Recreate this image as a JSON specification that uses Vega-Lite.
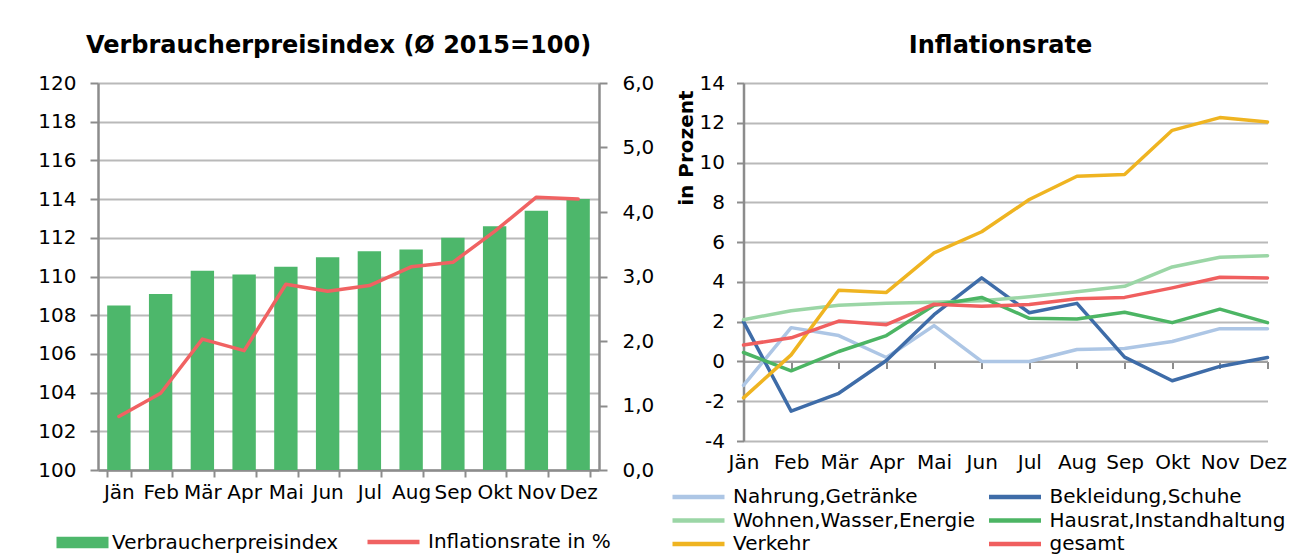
{
  "$schema": "https://vega.github.io/schema/vega-lite/v6.json",
  "padding": {"left": 37, "top": 34, "right": 0, "bottom": 0},
  "background": "white",
  "config": {
    "font": "DejaVu Sans",
    "view": {"stroke": null},
    "axis": {
      "labelFont": "DejaVu Sans", "labelFontSize": 20, "labelColor": "#000000",
      "titleFont": "DejaVu Sans", "titleColor": "#000000",
      "domainColor": "#8c8c8c", "tickColor": "#8c8c8c", "gridColor": "#b9b9b9",
      "gridWidth": 2, "domainWidth": 2.5, "tickWidth": 2,
      "labelFlush": false, "labelOverlap": false, "labelBound": false
    },
    "legend": {"labelFont": "DejaVu Sans", "labelFontSize": 20, "labelColor": "#000000", "labelLimit": 400},
    "title": {"font": "DejaVu Sans", "fontSize": 24, "fontWeight": "bold", "color": "#000000"}
  },
  "datasets": {
    "cpi": [
      {"Monat": "Jän", "Index": 108.5, "Rate": 0.83},
      {"Monat": "Feb", "Index": 109.1, "Rate": 1.19},
      {"Monat": "Mär", "Index": 110.3, "Rate": 2.03},
      {"Monat": "Apr", "Index": 110.1, "Rate": 1.85},
      {"Monat": "Mai", "Index": 110.5, "Rate": 2.88},
      {"Monat": "Jun", "Index": 111.0, "Rate": 2.77},
      {"Monat": "Jul", "Index": 111.3, "Rate": 2.86},
      {"Monat": "Aug", "Index": 111.4, "Rate": 3.15},
      {"Monat": "Sep", "Index": 112.0, "Rate": 3.22},
      {"Monat": "Okt", "Index": 112.6, "Rate": 3.7},
      {"Monat": "Nov", "Index": 113.4, "Rate": 4.23},
      {"Monat": "Dez", "Index": 114.0, "Rate": 4.2}
    ],
    "rates": [
      {"Kategorie": "Nahrung,Getränke", "Monat": "Jän", "Wert": -1.2},
      {"Kategorie": "Nahrung,Getränke", "Monat": "Feb", "Wert": 1.7},
      {"Kategorie": "Nahrung,Getränke", "Monat": "Mär", "Wert": 1.3},
      {"Kategorie": "Nahrung,Getränke", "Monat": "Apr", "Wert": 0.2},
      {"Kategorie": "Nahrung,Getränke", "Monat": "Mai", "Wert": 1.8},
      {"Kategorie": "Nahrung,Getränke", "Monat": "Jun", "Wert": 0.0},
      {"Kategorie": "Nahrung,Getränke", "Monat": "Jul", "Wert": 0.0},
      {"Kategorie": "Nahrung,Getränke", "Monat": "Aug", "Wert": 0.6},
      {"Kategorie": "Nahrung,Getränke", "Monat": "Sep", "Wert": 0.65},
      {"Kategorie": "Nahrung,Getränke", "Monat": "Okt", "Wert": 1.0},
      {"Kategorie": "Nahrung,Getränke", "Monat": "Nov", "Wert": 1.65},
      {"Kategorie": "Nahrung,Getränke", "Monat": "Dez", "Wert": 1.65},
      {"Kategorie": "Bekleidung,Schuhe", "Monat": "Jän", "Wert": 2.0},
      {"Kategorie": "Bekleidung,Schuhe", "Monat": "Feb", "Wert": -2.5},
      {"Kategorie": "Bekleidung,Schuhe", "Monat": "Mär", "Wert": -1.6},
      {"Kategorie": "Bekleidung,Schuhe", "Monat": "Apr", "Wert": 0.05},
      {"Kategorie": "Bekleidung,Schuhe", "Monat": "Mai", "Wert": 2.35},
      {"Kategorie": "Bekleidung,Schuhe", "Monat": "Jun", "Wert": 4.2},
      {"Kategorie": "Bekleidung,Schuhe", "Monat": "Jul", "Wert": 2.45},
      {"Kategorie": "Bekleidung,Schuhe", "Monat": "Aug", "Wert": 2.92},
      {"Kategorie": "Bekleidung,Schuhe", "Monat": "Sep", "Wert": 0.22},
      {"Kategorie": "Bekleidung,Schuhe", "Monat": "Okt", "Wert": -0.97},
      {"Kategorie": "Bekleidung,Schuhe", "Monat": "Nov", "Wert": -0.25},
      {"Kategorie": "Bekleidung,Schuhe", "Monat": "Dez", "Wert": 0.2},
      {"Kategorie": "Wohnen,Wasser,Energie", "Monat": "Jän", "Wert": 2.1},
      {"Kategorie": "Wohnen,Wasser,Energie", "Monat": "Feb", "Wert": 2.55},
      {"Kategorie": "Wohnen,Wasser,Energie", "Monat": "Mär", "Wert": 2.83},
      {"Kategorie": "Wohnen,Wasser,Energie", "Monat": "Apr", "Wert": 2.92},
      {"Kategorie": "Wohnen,Wasser,Energie", "Monat": "Mai", "Wert": 2.97},
      {"Kategorie": "Wohnen,Wasser,Energie", "Monat": "Jun", "Wert": 3.05},
      {"Kategorie": "Wohnen,Wasser,Energie", "Monat": "Jul", "Wert": 3.25},
      {"Kategorie": "Wohnen,Wasser,Energie", "Monat": "Aug", "Wert": 3.5},
      {"Kategorie": "Wohnen,Wasser,Energie", "Monat": "Sep", "Wert": 3.78},
      {"Kategorie": "Wohnen,Wasser,Energie", "Monat": "Okt", "Wert": 4.75},
      {"Kategorie": "Wohnen,Wasser,Energie", "Monat": "Nov", "Wert": 5.24},
      {"Kategorie": "Wohnen,Wasser,Energie", "Monat": "Dez", "Wert": 5.32},
      {"Kategorie": "Hausrat,Instandhaltung", "Monat": "Jän", "Wert": 0.45},
      {"Kategorie": "Hausrat,Instandhaltung", "Monat": "Feb", "Wert": -0.47},
      {"Kategorie": "Hausrat,Instandhaltung", "Monat": "Mär", "Wert": 0.5},
      {"Kategorie": "Hausrat,Instandhaltung", "Monat": "Apr", "Wert": 1.3},
      {"Kategorie": "Hausrat,Instandhaltung", "Monat": "Mai", "Wert": 2.83},
      {"Kategorie": "Hausrat,Instandhaltung", "Monat": "Jun", "Wert": 3.22},
      {"Kategorie": "Hausrat,Instandhaltung", "Monat": "Jul", "Wert": 2.17},
      {"Kategorie": "Hausrat,Instandhaltung", "Monat": "Aug", "Wert": 2.13},
      {"Kategorie": "Hausrat,Instandhaltung", "Monat": "Sep", "Wert": 2.47},
      {"Kategorie": "Hausrat,Instandhaltung", "Monat": "Okt", "Wert": 1.95},
      {"Kategorie": "Hausrat,Instandhaltung", "Monat": "Nov", "Wert": 2.63},
      {"Kategorie": "Hausrat,Instandhaltung", "Monat": "Dez", "Wert": 1.95},
      {"Kategorie": "Verkehr", "Monat": "Jän", "Wert": -1.83},
      {"Kategorie": "Verkehr", "Monat": "Feb", "Wert": 0.33},
      {"Kategorie": "Verkehr", "Monat": "Mär", "Wert": 3.58},
      {"Kategorie": "Verkehr", "Monat": "Apr", "Wert": 3.47},
      {"Kategorie": "Verkehr", "Monat": "Mai", "Wert": 5.46},
      {"Kategorie": "Verkehr", "Monat": "Jun", "Wert": 6.52},
      {"Kategorie": "Verkehr", "Monat": "Jul", "Wert": 8.14},
      {"Kategorie": "Verkehr", "Monat": "Aug", "Wert": 9.31},
      {"Kategorie": "Verkehr", "Monat": "Sep", "Wert": 9.4},
      {"Kategorie": "Verkehr", "Monat": "Okt", "Wert": 11.62},
      {"Kategorie": "Verkehr", "Monat": "Nov", "Wert": 12.26},
      {"Kategorie": "Verkehr", "Monat": "Dez", "Wert": 12.04},
      {"Kategorie": "gesamt", "Monat": "Jän", "Wert": 0.83},
      {"Kategorie": "gesamt", "Monat": "Feb", "Wert": 1.19},
      {"Kategorie": "gesamt", "Monat": "Mär", "Wert": 2.03},
      {"Kategorie": "gesamt", "Monat": "Apr", "Wert": 1.85},
      {"Kategorie": "gesamt", "Monat": "Mai", "Wert": 2.88},
      {"Kategorie": "gesamt", "Monat": "Jun", "Wert": 2.77},
      {"Kategorie": "gesamt", "Monat": "Jul", "Wert": 2.86},
      {"Kategorie": "gesamt", "Monat": "Aug", "Wert": 3.15},
      {"Kategorie": "gesamt", "Monat": "Sep", "Wert": 3.22},
      {"Kategorie": "gesamt", "Monat": "Okt", "Wert": 3.7},
      {"Kategorie": "gesamt", "Monat": "Nov", "Wert": 4.23},
      {"Kategorie": "gesamt", "Monat": "Dez", "Wert": 4.2}
    ]
  },
  "spacing": 14.5,
  "resolve": {
    "scale": {"color": "independent", "fill": "independent", "stroke": "independent", "x": "independent", "y": "independent"},
    "legend": {"color": "independent", "fill": "independent", "stroke": "independent"}
  },
  "hconcat": [
    {
      "width": 501,
      "height": 387,
      "title": {"text": "Verbraucherpreisindex (Ø 2015=100)", "offset": 15, "anchor": "middle", "dx": -10},
      "data": {"name": "cpi"},
      "encoding": {
        "x": {
          "field": "Monat", "type": "nominal", "sort": null,
          "scale": {"paddingInner": 0.44, "paddingOuter": 0.22},
          "axis": {"title": null, "tickBand": "extent", "tickSize": 7, "labelPadding": 5, "labelAngle": 0, "grid": false}
        }
      },
      "layer": [
        {
          "mark": {"type": "bar"},
          "encoding": {
            "y": {
              "field": "Index", "type": "quantitative",
              "scale": {"domain": [100, 120], "zero": false, "nice": false},
              "axis": {"title": null, "orient": "left", "values": [100, 102, 104, 106, 108, 110, 112, 114, 116, 118, 120], "grid": true, "tickSize": 8, "labelPadding": 14}
            },
            "y2": {"datum": 100},
            "fill": {
              "datum": "Verbraucherpreisindex", "type": "nominal",
              "scale": {"range": ["#4db76b"]},
              "legend": {"orient": "none", "legendX": -45, "legendY": 449.5, "title": null, "symbolType": "M-1,-0.9H7V0.9H-1Z", "symbolSize": 169, "symbolStrokeWidth": 0, "labelOffset": 39}
            }
          }
        },
        {
          "mark": {"type": "line", "strokeWidth": 3.5, "strokeJoin": "round", "strokeCap": "round"},
          "encoding": {
            "y": {
              "field": "Rate", "type": "quantitative",
              "scale": {"domain": [0, 6], "nice": false},
              "axis": {"title": null, "orient": "right", "values": [0, 1, 2, 3, 4, 5, 6], "grid": false, "tickSize": 8, "labelPadding": 15, "labelExpr": "replace(format(datum.value, '.1f'), '.', ',')"}
            },
            "stroke": {
              "datum": "Inflationsrate in %", "type": "nominal",
              "scale": {"range": ["#f06262"]},
              "legend": {"orient": "none", "legendX": 266, "legendY": 449, "title": null, "symbolType": "M-1,0H7", "symbolSize": 169, "symbolStrokeWidth": 4.5, "labelOffset": 44}
            }
          }
        }
      ],
      "resolve": {"scale": {"y": "independent"}}
    },
    {
      "width": 524,
      "height": 358,
      "title": {"text": "Inflationsrate", "offset": 15, "anchor": "middle", "dx": -5},
      "data": {"name": "rates"},
      "mark": {"type": "line", "strokeWidth": 3.5, "strokeJoin": "round", "strokeCap": "round"},
      "encoding": {
        "x": {
          "field": "Monat", "type": "ordinal",
          "sort": ["Jän", "Feb", "Mär", "Apr", "Mai", "Jun", "Jul", "Aug", "Sep", "Okt", "Nov", "Dez"],
          "scale": {"type": "point", "padding": 0},
          "axis": {"title": null, "offset": -79.5, "tickSize": 7, "labelPadding": 84, "labelAngle": 0, "domainColor": "#a0a0a0", "domainWidth": 2, "grid": false}
        },
        "y": {
          "field": "Wert", "type": "quantitative",
          "scale": {"domain": [-4, 14], "nice": false},
          "axis": {
            "values": [-4, -2, 0, 2, 4, 6, 8, 10, 12, 14], "grid": true, "tickSize": 7, "labelPadding": 12,
            "labelExpr": "datum.value + ''",
            "title": "in Prozent", "titleFontWeight": "bold", "titleFontSize": 20, "titleAngle": -90,
            "titleX": -57, "titleY": 7, "titleAlign": "right", "titleBaseline": "middle"
          }
        },
        "color": {
          "field": "Kategorie", "type": "nominal",
          "scale": {
            "domain": ["Nahrung,Getränke", "Wohnen,Wasser,Energie", "Verkehr", "Bekleidung,Schuhe", "Hausrat,Instandhaltung", "gesamt"],
            "range": ["#adc6e5", "#9bd6a6", "#efb421", "#3e6ca8", "#4cb564", "#f05f5f"]
          },
          "legend": {"orient": "none", "legendX": -74.5, "legendY": 404, "columns": 2, "title": null, "symbolType": "M-1,0H7", "symbolSize": 169, "symbolStrokeWidth": 4.5, "labelOffset": 44, "columnPadding": 3.5, "rowPadding": 3.5}
        }
      }
    }
  ]
}
